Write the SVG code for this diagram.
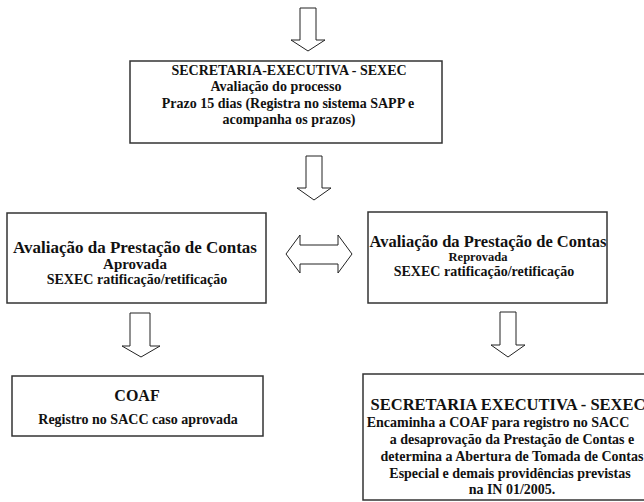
<svg xmlns="http://www.w3.org/2000/svg" width="644" height="502" viewBox="0 0 644 502">
<style>
.box{fill:#fff;stroke:#333;stroke-width:1.5}
.arr{fill:#fff;stroke:#222;stroke-width:1}
text{font-family:"Liberation Serif","Times New Roman",serif;font-weight:bold;fill:#111;text-anchor:middle}
.t14{font-size:14px}
</style>
<rect width="644" height="502" fill="#fff"/>
<g id="connectors">
<polygon class="arr" points="300,8 316,8 316,40 325,40 308,51 291,40 300,40"/>
<polygon class="arr" points="306,156 322,156 322,188 331,188 314,200 297,188 306,188"/>
<polygon class="arr" points="286,254 300,235 300,245 338,245 338,235 352,254 338,273 338,264 300,264 300,273"/>
<polygon class="arr" points="130,313 150,313 150,346 160,346 141,357 122,346 130,346"/>
<polygon class="arr" points="500,312 516,312 516,345 525,345 508,357 491,345 500,345"/>
</g>
<g id="sexec-top">
<rect class="box" x="130" y="61" width="312" height="82"/>
<text class="t14" x="289" y="75">SECRETARIA-EXECUTIVA - SEXEC</text>
<text class="t14" x="276" y="91">Avaliação do processo</text>
<text class="t14" x="288" y="108">Prazo 15 dias (Registra no sistema SAPP e</text>
<text class="t14" x="289" y="124">acompanha os prazos)</text>
</g>
<g id="aprovada">
<rect class="box" x="7" y="213" width="259" height="90"/>
<text x="135" y="253" font-size="17">Avaliação da Prestação de Contas</text>
<text x="135" y="269" font-size="15">Aprovada</text>
<text class="t14" x="137" y="284">SEXEC ratificação/retificação</text>
</g>
<g id="reprovada">
<rect class="box" x="368" y="212" width="239" height="91"/>
<text x="488" y="247" font-size="16.5">Avaliação da Prestação de Contas</text>
<text x="478" y="261" font-size="12.5">Reprovada</text>
<text class="t14" x="484" y="276">SEXEC ratificação/retificação</text>
</g>
<g id="coaf">
<rect class="box" x="12" y="376" width="251" height="60"/>
<text x="137" y="401" font-size="16">COAF</text>
<text class="t14" x="138" y="424">Registro no SACC caso aprovada</text>
</g>
<g id="sexec-bottom">
<rect class="box" x="363" y="374" width="297" height="126"/>
<text x="508" y="410" font-size="16.5">SECRETARIA EXECUTIVA - SEXEC</text>
<text class="t14" x="498" y="427">Encaminha a COAF para registro no SACC</text>
<text class="t14" x="512" y="444">a desaprovação da Prestação de Contas e</text>
<text class="t14" x="512" y="461">determina a Abertura de Tomada de Contas</text>
<text class="t14" x="510" y="478">Especial e demais providências previstas</text>
<text class="t14" x="512" y="494">na IN 01/2005.</text>
</g>
</svg>
